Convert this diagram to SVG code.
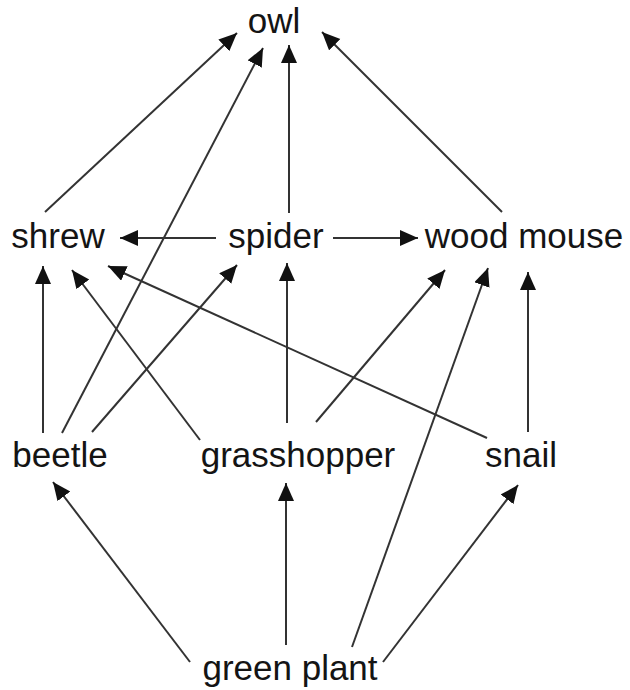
<svg xmlns="http://www.w3.org/2000/svg" width="630" height="690" viewBox="0 0 630 690">
<style>
.lbl{font-family:"Liberation Sans",Arial,sans-serif;font-size:35px;fill:#141414;text-anchor:middle}
.c line{stroke:#333;stroke-width:2;marker-end:url(#ah)}
</style>
<defs>
<marker id="ah" markerUnits="userSpaceOnUse" markerWidth="20" markerHeight="18" refX="18" refY="8" orient="auto">
<path d="M0,0 L18,8 L0,16 z" fill="#111"/>
</marker>
</defs>
<rect width="630" height="690" fill="#fff"/>
<g class="c" id="connectors">
<line x1="45" y1="212" x2="237" y2="33"/>
<line x1="62" y1="433" x2="263" y2="48"/>
<line x1="289" y1="213" x2="289" y2="45"/>
<line x1="502" y1="212" x2="322" y2="32"/>
<line x1="216" y1="238" x2="120" y2="238"/>
<line x1="333" y1="238" x2="418" y2="238"/>
<line x1="43" y1="433" x2="43" y2="266"/>
<line x1="200" y1="440" x2="72" y2="270"/>
<line x1="487" y1="438" x2="108" y2="266"/>
<line x1="92" y1="432" x2="237" y2="265"/>
<line x1="287" y1="423" x2="287" y2="263"/>
<line x1="316" y1="422" x2="445" y2="270"/>
<line x1="352" y1="647" x2="488" y2="268"/>
<line x1="528" y1="432" x2="528" y2="272"/>
<line x1="190" y1="662" x2="53" y2="482"/>
<line x1="286" y1="645" x2="286" y2="483"/>
<line x1="383" y1="662" x2="518" y2="485"/>
</g>
<g id="owl"><text class="lbl" x="274" y="33">owl</text></g>
<g id="shrew"><text class="lbl" x="58" y="248">shrew</text></g>
<g id="spider"><text class="lbl" x="276" y="248">spider</text></g>
<g id="wood-mouse"><text class="lbl" x="524" y="248">wood mouse</text></g>
<g id="beetle"><text class="lbl" x="60" y="467">beetle</text></g>
<g id="grasshopper"><text class="lbl" x="298" y="467">grasshopper</text></g>
<g id="snail"><text class="lbl" x="521" y="467">snail</text></g>
<g id="green-plant"><text class="lbl" x="290" y="680">green plant</text></g>
</svg>
